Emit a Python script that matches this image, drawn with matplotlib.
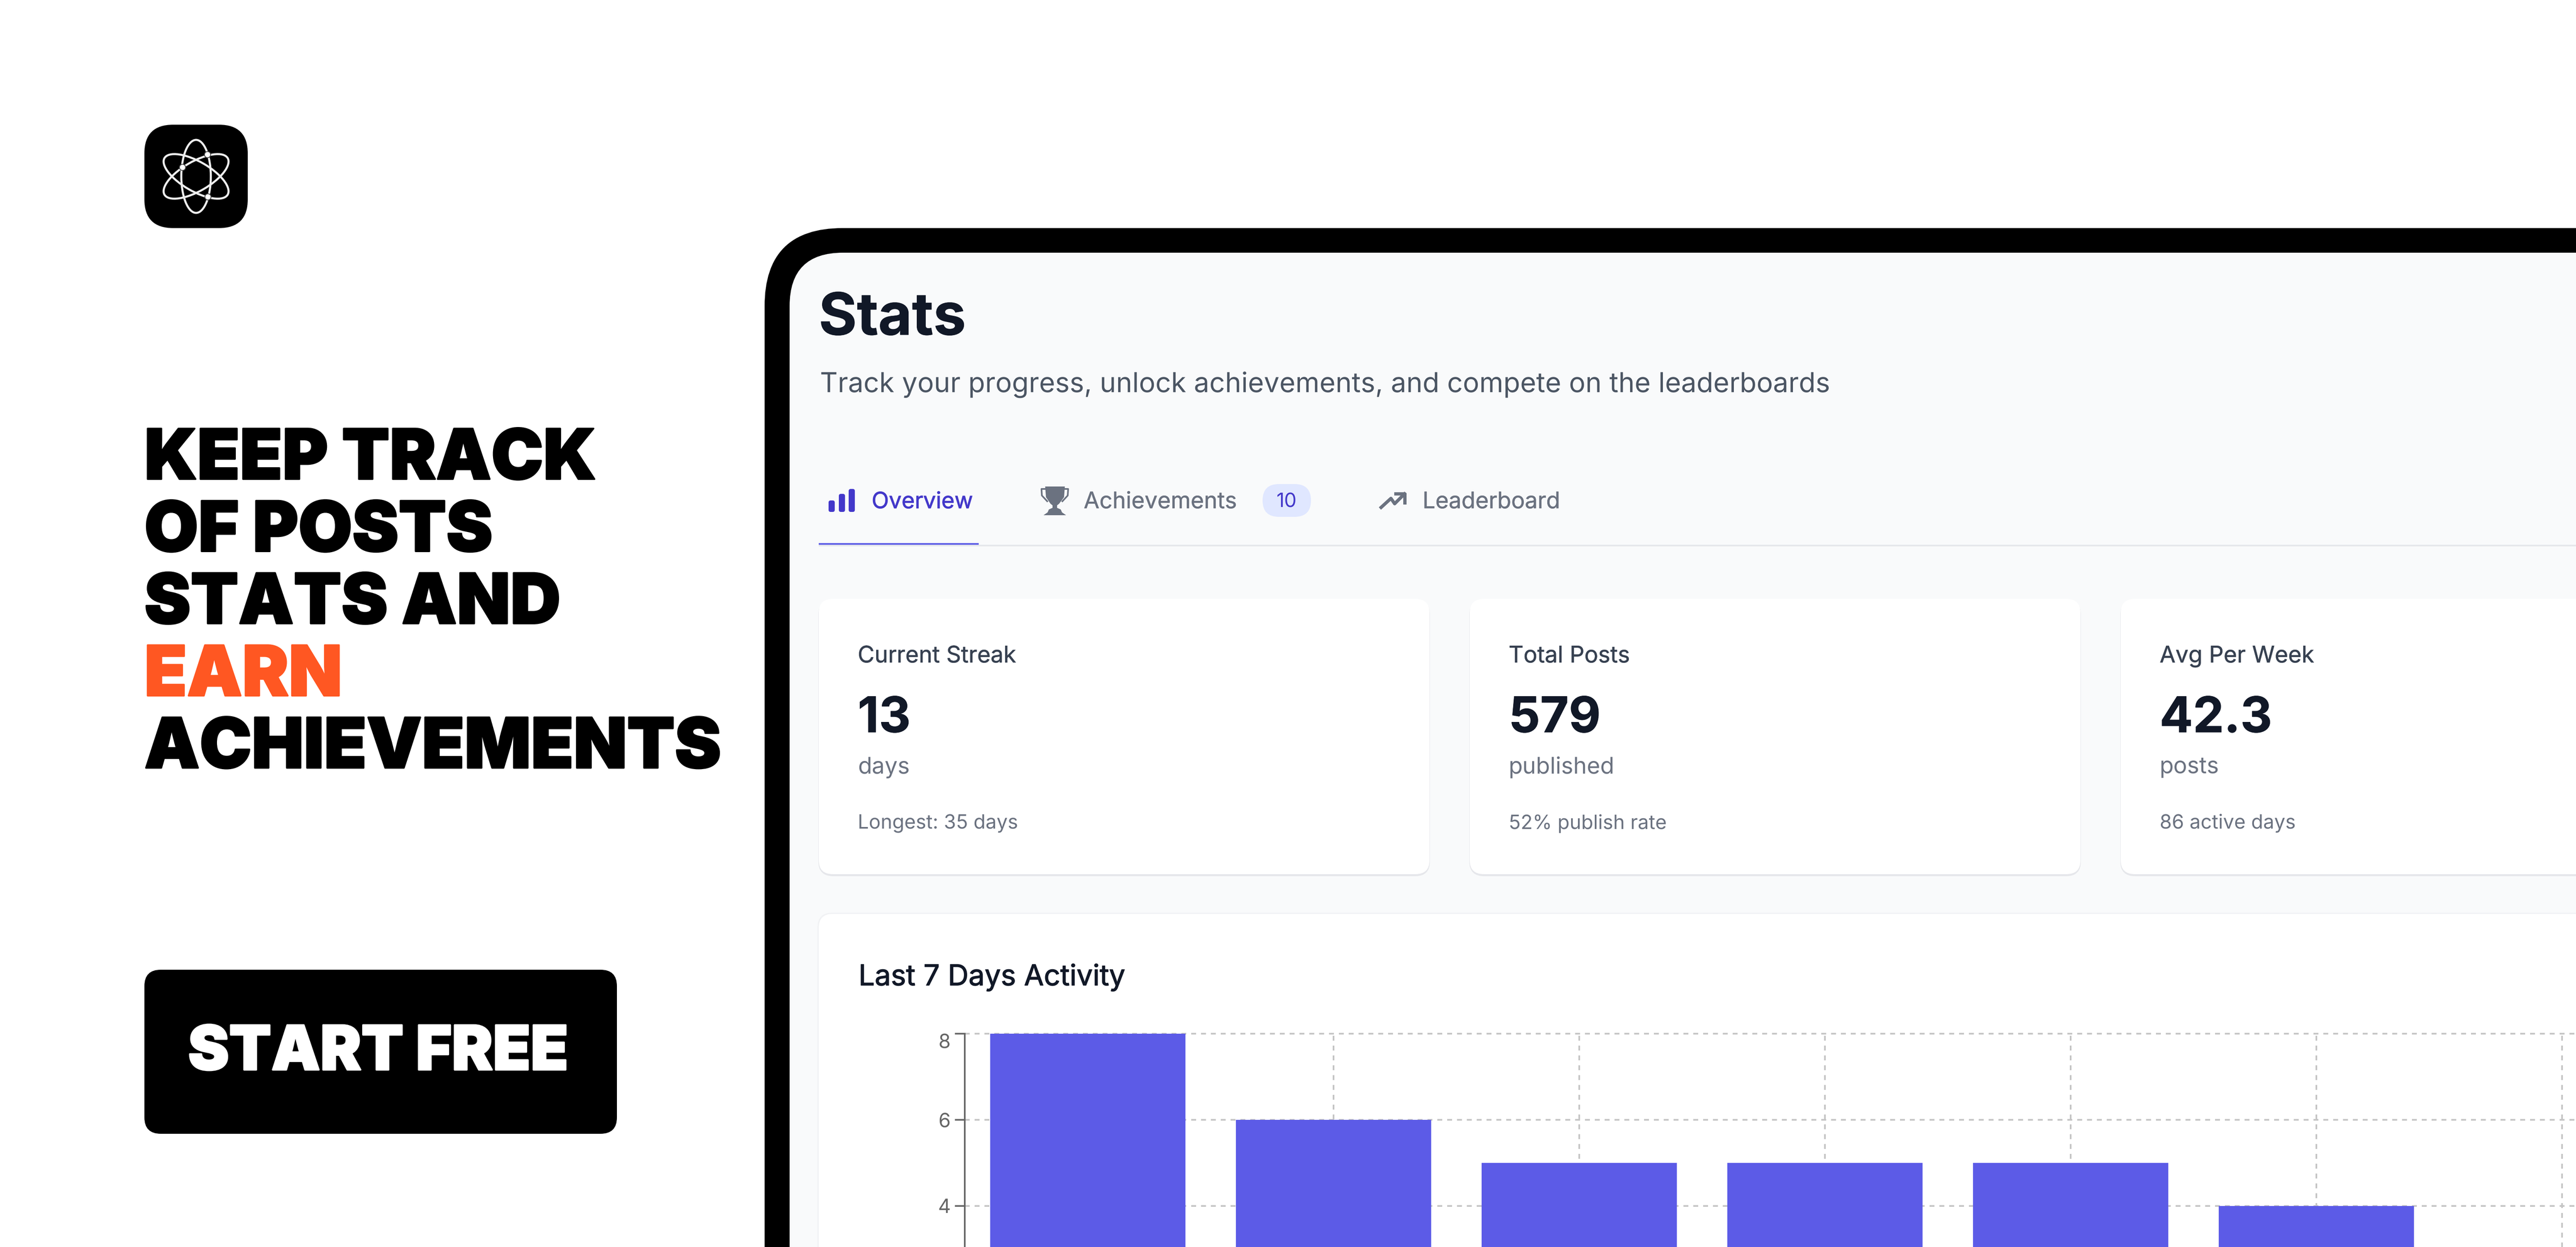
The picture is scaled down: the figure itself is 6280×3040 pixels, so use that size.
import matplotlib
matplotlib.use('Agg')
import matplotlib.pyplot as plt
from matplotlib.patches import FancyBboxPatch, Ellipse, Circle, Polygon, Rectangle
from matplotlib import patheffects

plt.rcParams['text.hinting'] = 'none'

# chart values
days = ['d1', 'd2', 'd3', 'd4', 'd5', 'd6', 'd7']
posts = [8, 6, 5, 5, 5, 4, 3]
y_ticks = [4, 6, 8]

# stat cards
card_x = [1996, 3583, 5170]
card_titles = ['Current Streak', 'Total Posts', 'Avg Per Week']
card_values = ['13', '579', '42.3']
card_units = ['days', 'published', 'posts']
card_notes = ['Longest: 35 days', '52% publish rate', '86 active days']

headline = ['KEEP TRACK', 'OF POSTS', 'STATS AND', 'EARN', 'ACHIEVEMENTS']
headline_colors = ['black', 'black', 'black', '#FF5722', 'black']

UI = 'Inter'
HEAVY = 'Inter'
px = 0.72  # dpi 100, pt per pixel

fig = plt.figure(figsize=(62.8, 30.4), dpi=100, facecolor='white')
bg = fig.add_axes([0, 0, 1, 1])
bg.set_xlim(0, 6280)
bg.set_ylim(3040, 0)
bg.axis('off')


def box(x, y, w, h, r, color, z=1):
    bg.add_patch(FancyBboxPatch((x, y), w, h, boxstyle='round,pad=0,rounding_size=%d' % r,
                                fc=color, ec='none', zorder=z))


def label(x, y, s, size, color, weight='normal', family=UI, ha='left', stroke=0):
    t = bg.text(x, y, s, fontsize=size * px, color=color, fontweight=weight, family=family,
                ha=ha, va='baseline', zorder=5)
    if stroke:
        t.set_path_effects([patheffects.withStroke(linewidth=stroke * px, foreground=color)])
    return t


# logo
box(352, 304, 252, 252, 70, 'black')
for a in [0, 60, -60]:
    bg.add_patch(Ellipse((478, 430), 72, 178, angle=a, fc='none', ec='#EEEEEE', lw=5 * px, zorder=2))
for c in [(506, 377), (445, 408), (507, 480)]:
    bg.add_patch(Circle(c, 7.5, fc='white', ec='#444444', lw=2 * px, zorder=3))

# headline and button
for i, line in enumerate(headline):
    label(352, 1168 + 176 * i, line, 169.5, headline_colors[i], weight='black', family=HEAVY, stroke=4)
box(352, 2364, 1152, 400, 40, 'black')
label(922, 2608, 'START FREE', 150, 'white', weight='black', family=HEAVY, ha='center', stroke=4)

# device frame
box(1864, 556, 6000, 3000, 190, 'black')
box(1925, 616, 6000, 3000, 130, '#F9FAFB', z=1.1)

label(1996, 816, 'Stats', 142, '#111827', weight='bold', stroke=1)
label(1999, 956, 'Track your progress, unlock achievements, and compete on the leaderboards', 67, '#4B5563')

# tabs
for bx, top, in [(2020, 1220), (2045, 1204), (2069, 1192)]:
    box(bx, top, 15, 1248 - top, 5, '#4338CA', z=2)
label(2125, 1239, 'Overview', 55, '#4338CA', stroke=1)

gray = '#6B7280'
bg.add_patch(Polygon([(2548, 1186), (2596, 1186), (2594, 1212), (2582, 1228), (2577, 1232), (2577, 1238),
                      (2586, 1242), (2589, 1249), (2599, 1256), (2544, 1256), (2554, 1249), (2557, 1242),
                      (2566, 1238), (2566, 1232), (2561, 1228), (2550, 1212)], fc=gray, ec='none', zorder=2))
bg.plot([2548, 2539, 2540, 2553], [1192, 1192, 1208, 1222], color=gray, lw=4 * px, zorder=2)
bg.plot([2595, 2604, 2603, 2590], [1192, 1192, 1208, 1222], color=gray, lw=4 * px, zorder=2)
label(2642, 1239, 'Achievements', 55.5, gray, stroke=0.6)
box(3078, 1180, 118, 80, 40, '#E0E7FF', z=2)
label(3137, 1236, '10', 48, '#4338CA', ha='center')

bg.plot([3367, 3391, 3400, 3424], [1237, 1215, 1228, 1204], color=gray, lw=8 * px, zorder=2)
bg.plot([3403, 3425, 3425], [1204, 1204, 1226], color=gray, lw=8 * px, zorder=2)
label(3468, 1239, 'Leaderboard', 55.5, gray, stroke=0.6)

bg.add_patch(Rectangle((1996, 1328), 4500, 4, fc='#E5E7EB', ec='none', zorder=2))
bg.add_patch(Rectangle((1996, 1324), 390, 4, fc='#5B5BE6', ec='none', zorder=2))

# stat cards
for i, x in enumerate(card_x):
    box(x - 1, 1462, 1491, 674, 36, '#E6E7EB', z=1.5)
    box(x, 1460, 1489, 671, 34, 'white', z=1.6)
    label(x + 95, 1615, card_titles[i], 56, '#374151', stroke=0.6)
    label(x + 95, 1785, card_values[i], 120, '#111827', weight='bold', stroke=1)
    label(x + 95, 1886, card_units[i], 56, gray)
    label(x + 95, 2020, card_notes[i], 48, gray)

# chart card
box(1993, 2225, 5000, 2000, 36, '#F1F2F4', z=1.5)
box(1996, 2228, 5000, 2000, 34, 'white', z=1.6)
label(2093, 2402, 'Last 7 Days Activity', 70, '#111827', stroke=1.5)

# chart, axes run off the right and the bottom of the canvas
W, H = 6280.0, 3040.0
left, right, top, bottom = 2352, 2352 + 7 * 599, 2520, 3360
ax = fig.add_axes([left / W, 1 - bottom / H, (right - left) / W, (bottom - top) / H], zorder=2)
ax.patch.set_alpha(0)
ax.bar(range(len(days)), posts, width=476 / 599, color='#5C5BE7', zorder=3)
ax.set_xlim(-0.5, 6.5)
ax.set_ylim(0, 8)
ax.set_yticks(y_ticks)
ax.set_xticks(range(len(days)))
ax.set_xticklabels([])
ax.tick_params(axis='x', length=0)
ax.tick_params(axis='y', length=24 * px, width=4 * px, color='#666666', labelcolor='#666666',
               labelsize=48 * px, pad=11 * px)
for t in ax.get_yticklabels():
    t.set_family(UI)
ax.get_yticklabels()[-1].set_va('top')
ax.grid(True, color='#C4C4C4', lw=4 * px, ls=(0, (3, 3)), zorder=1)
for g in ax.get_xgridlines() + ax.get_ygridlines():
    g.set_clip_on(False)
for s in ['top', 'right', 'bottom']:
    ax.spines[s].set_visible(False)
ax.spines['left'].set_color('#666666')
ax.spines['left'].set_linewidth(4 * px)

fig.savefig('out.png', dpi=100)
